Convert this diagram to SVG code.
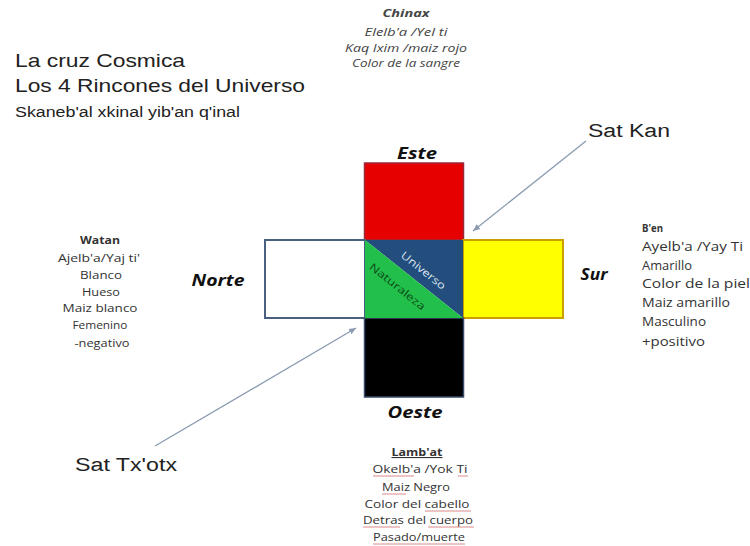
<svg xmlns="http://www.w3.org/2000/svg" width="750" height="546" viewBox="0 0 750 546">
<defs>
<style>
.t{font-family:"Liberation Sans",Arial,sans-serif;fill:#222}
.c{font-family:"Open Sans",Lato,sans-serif;fill:#333}
.ci{font-family:"Open Sans",Lato,sans-serif;font-style:italic;fill:#444;font-size:11px}
.dir{font-family:"Open Sans",Lato,sans-serif;font-style:italic;font-weight:bold;font-size:16.5px;fill:#111}
.ul{stroke:#d88;stroke-width:1}
.conn{stroke:#8a9ab0;stroke-width:1.3;fill:none}
</style>
<marker id="ah" markerWidth="8" markerHeight="8" refX="7" refY="4" orient="auto" markerUnits="userSpaceOnUse">
<path d="M0,1 L7,4 L0,7 z" fill="#8a9ab0"/>
</marker>
</defs>
<rect width="750" height="546" fill="#fff"/>
<g id="title">
<text class="t" x="15" y="67" font-size="18.5" textLength="170" lengthAdjust="spacingAndGlyphs">La cruz Cosmica</text>
<text class="t" x="15" y="92" font-size="18.5" textLength="290" lengthAdjust="spacingAndGlyphs">Los 4 Rincones del Universo</text>
<text class="t" x="15" y="117" font-size="14" textLength="225" lengthAdjust="spacingAndGlyphs">Skaneb'al xkinal yib'an q'inal</text>
</g>
<g id="chinax" text-anchor="middle">
<text class="ci" x="406" y="17" font-weight="bold" textLength="47" lengthAdjust="spacingAndGlyphs">Chinax</text>
<text class="ci" x="406" y="36" textLength="83" lengthAdjust="spacingAndGlyphs">Elelb'a /Yel ti</text>
<text class="ci" x="406" y="52" textLength="122" lengthAdjust="spacingAndGlyphs">Kaq Ixim /maiz rojo</text>
<text class="ci" x="406" y="67" textLength="108" lengthAdjust="spacingAndGlyphs">Color de la sangre</text>
</g>
<g id="watan" text-anchor="middle" font-size="11">
<text class="c" x="100" y="244" font-weight="bold" textLength="40" lengthAdjust="spacingAndGlyphs">Watan</text>
<text class="c" x="99" y="262" textLength="82" lengthAdjust="spacingAndGlyphs">Ajelb'a/Yaj ti'</text>
<text class="c" x="101" y="279" textLength="42" lengthAdjust="spacingAndGlyphs">Blanco</text>
<text class="c" x="101" y="296" textLength="38" lengthAdjust="spacingAndGlyphs">Hueso</text>
<text class="c" x="100" y="312" textLength="75" lengthAdjust="spacingAndGlyphs">Maiz blanco</text>
<text class="c" x="100" y="329" textLength="55" lengthAdjust="spacingAndGlyphs">Femenino</text>
<text class="c" x="102" y="347" textLength="55" lengthAdjust="spacingAndGlyphs">-negativo</text>
</g>
<g id="ben" font-size="12.5">
<text class="c" x="642" y="232" font-weight="bold" font-size="11" textLength="21" lengthAdjust="spacingAndGlyphs">B'en</text>
<text class="c" x="642" y="251" textLength="101" lengthAdjust="spacingAndGlyphs">Ayelb'a /Yay Ti</text>
<text class="c" x="642" y="270" font-size="13.5" textLength="50" lengthAdjust="spacingAndGlyphs">Amarillo</text>
<text class="c" x="642" y="288" textLength="108" lengthAdjust="spacingAndGlyphs">Color de la piel</text>
<text class="c" x="642" y="307" textLength="88" lengthAdjust="spacingAndGlyphs">Maiz amarillo</text>
<text class="c" x="642" y="326" font-size="13.5" textLength="64" lengthAdjust="spacingAndGlyphs">Masculino</text>
<text class="c" x="642" y="346" font-size="13.5" textLength="63" lengthAdjust="spacingAndGlyphs">+positivo</text>
</g>
<g id="lambat" text-anchor="middle" font-size="11">
<text class="c" x="417" y="456" font-weight="bold" text-decoration="underline" textLength="51" lengthAdjust="spacingAndGlyphs">Lamb'at</text>
<text class="c" x="420" y="473" textLength="95" lengthAdjust="spacingAndGlyphs">Okelb'a /Yok Ti</text>
<text class="c" x="416" y="491" textLength="68" lengthAdjust="spacingAndGlyphs">Maiz Negro</text>
<text class="c" x="417" y="508" textLength="105" lengthAdjust="spacingAndGlyphs">Color del cabello</text>
<text class="c" x="418" y="524" textLength="110" lengthAdjust="spacingAndGlyphs">Detras del cuerpo</text>
<text class="c" x="419" y="541" textLength="92" lengthAdjust="spacingAndGlyphs">Pasado/muerte</text>
<line class="ul" x1="373" y1="476" x2="414" y2="476"/>
<line class="ul" x1="458" y1="476" x2="468" y2="476"/>
<line class="ul" x1="382" y1="494" x2="406" y2="494"/>
<line class="ul" x1="425" y1="511" x2="471" y2="511"/>
<line class="ul" x1="363" y1="527" x2="400" y2="527"/>
<line class="ul" x1="428" y1="527" x2="474" y2="527"/>
<line class="ul" x1="373" y1="544" x2="465" y2="544"/>
</g>
<g id="este"><text class="dir" x="417" y="159" text-anchor="middle" textLength="40" lengthAdjust="spacingAndGlyphs">Este</text>
<rect x="364.5" y="163" width="99" height="77" fill="#e60000" stroke="#9a2a3a" stroke-width="1.5"/></g>
<g id="norte"><text class="dir" x="218" y="286" text-anchor="middle" textLength="53" lengthAdjust="spacingAndGlyphs">Norte</text>
<rect x="265" y="240" width="100" height="78" fill="#fff" stroke="#4a6080" stroke-width="2"/></g>
<g id="sur"><text class="dir" x="594" y="280" text-anchor="middle" textLength="27" lengthAdjust="spacingAndGlyphs">Sur</text>
<rect x="463" y="240" width="100" height="78" fill="#ffff00" stroke="#c9a000" stroke-width="2"/></g>
<g id="oeste"><rect x="364.5" y="318" width="99" height="79" fill="#000" stroke="#3a4a6a" stroke-width="1.5"/>
<text class="dir" x="415" y="418" text-anchor="middle" textLength="55" lengthAdjust="spacingAndGlyphs">Oeste</text></g>
<g id="centro">
<polygon points="365,240 463,240 463,318" fill="#234d7d"/>
<polygon points="365,240 463,318 365,318" fill="#22c04a"/>
<text x="423" y="274" transform="rotate(38.5 423 271)" text-anchor="middle" font-family="'Open Sans',Lato,sans-serif" font-size="10.5" fill="#dde6f0" textLength="54" lengthAdjust="spacingAndGlyphs">Universo</text>
<text x="397" y="290" transform="rotate(38.5 397 287)" text-anchor="middle" font-family="'Open Sans',Lato,sans-serif" font-size="10.5" fill="#0b4a1a" textLength="68" lengthAdjust="spacingAndGlyphs">Naturaleza</text>
</g>
<g id="satkan"><text class="t" x="588" y="137" font-size="18" textLength="82" lengthAdjust="spacingAndGlyphs">Sat Kan</text></g>
<g id="sattxotx"><text class="t" x="75" y="471" font-size="18" textLength="102" lengthAdjust="spacingAndGlyphs">Sat Tx'otx</text></g>
<g id="connectors">
<line class="conn" x1="586" y1="141" x2="473" y2="231" marker-end="url(#ah)"/>
<line class="conn" x1="155" y1="446" x2="356" y2="328" marker-end="url(#ah)"/>
</g>
</svg>
